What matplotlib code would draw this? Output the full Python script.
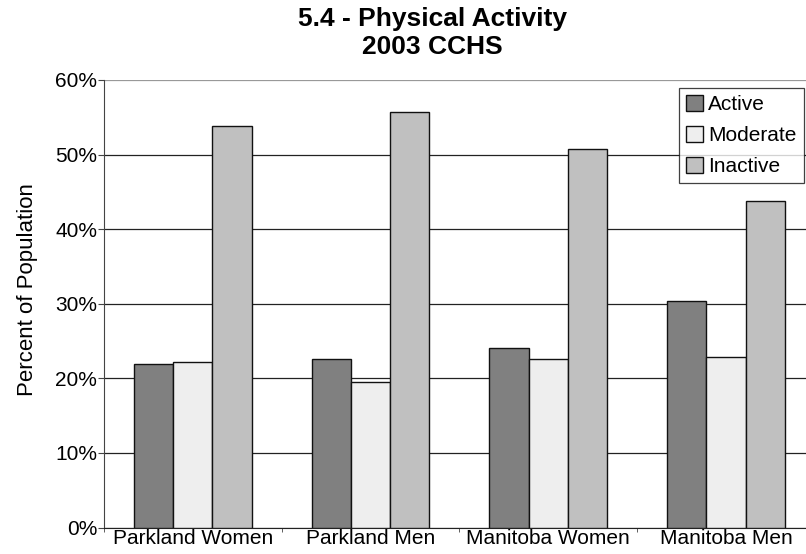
import matplotlib
matplotlib.use("Agg")
import matplotlib.pyplot as plt
import numpy as np

plt.rcParams['font.family'] = ['Liberation Sans', 'DejaVu Sans']

groups = ['Parkland Women', 'Parkland Men', 'Manitoba Women', 'Manitoba Men']
series = ['Active', 'Moderate', 'Inactive']
active = [21.9, 22.6, 24.1, 30.4]
moderate = [22.2, 19.5, 22.6, 22.8]
inactive = [53.8, 55.7, 50.8, 43.8]
colors = ['#808080', '#eeeeee', '#c0c0c0']

fig = plt.figure(figsize=(8.06, 5.54), dpi=100)
ax = fig.add_axes([0.129, 0.0477, 0.882, 0.808])

x = np.arange(len(groups))
w = 0.221
for i, (name, vals) in enumerate(zip(series, [active, moderate, inactive])):
    ax.bar(x + (i - 1) * w, vals, width=w, color=colors[i], edgecolor='#111111',
           linewidth=1.0, label=name, zorder=3)

ax.set_xlim(-0.5, 3.5)
ax.set_ylim(0, 60)
ax.set_yticks(range(0, 61, 10))
ax.set_yticklabels([f'{v}%' for v in range(0, 61, 10)], fontsize=15)
ax.yaxis.grid(True, color='#222222', linewidth=0.9, zorder=0)
ax.get_ygridlines()[-1].set_color('#999999')

ax.set_xticks(x)
ax.set_xticklabels(groups, fontsize=15)
ax.tick_params(axis='x', which='major', length=0, pad=1)
ax.set_xticks(np.arange(-0.5, 3.6, 1), minor=True)
ax.tick_params(axis='x', which='minor', length=3, color='#444444')
ax.tick_params(axis='y', length=4, color='#444444', pad=1)

for s in ['top', 'right']:
    ax.spines[s].set_visible(False)
ax.spines['left'].set_color('#444444')
ax.spines['bottom'].set_color('#222222')

ax.set_ylabel('Percent of Population', fontsize=16)
ax.yaxis.set_label_coords(-0.093, 0.531)

fig.text(0.536, 0.965, '5.4 - Physical Activity', ha='center', va='center',
         fontsize=19, fontweight='bold')
fig.text(0.536, 0.916, '2003 CCHS', ha='center', va='center',
         fontsize=19, fontweight='bold')

leg = fig.legend(loc='upper right', bbox_to_anchor=(804 / 806, 1 - 88 / 554), fontsize=15,
                 frameon=True, fancybox=False, edgecolor='#111111',
                 handlelength=0.8, handleheight=0.8, handletextpad=0.25,
                 borderpad=0.35, labelspacing=0.55, borderaxespad=0)
leg.get_frame().set_linewidth(0.9)

fig.savefig('out.png', dpi=100)
